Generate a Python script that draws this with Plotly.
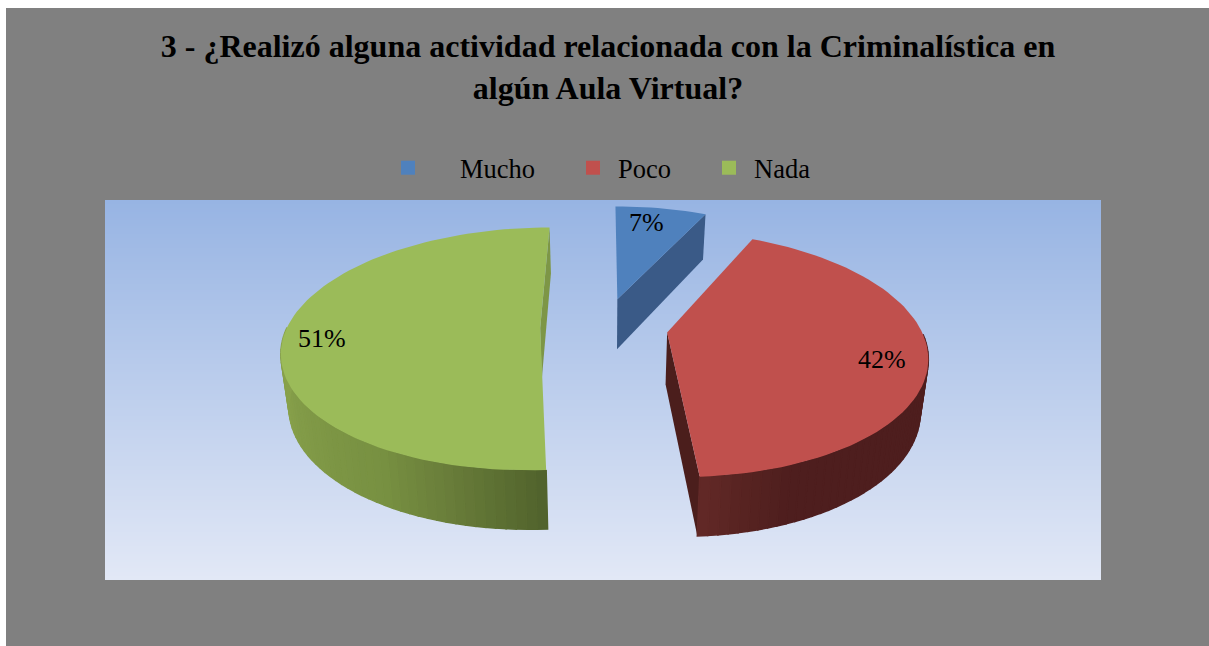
import numpy as np
import plotly.graph_objects as go

CATEGORIES = ["Mucho", "Poco", "Nada"]
VALUES = [7, 42, 51]
TITLE_LINES = ["3 - ¿Realizó alguna actividad relacionada con la Criminalística en",
               "algún Aula Virtual?"]

FACE = ["#4f81bd", "#c0504d", "#9bbb59"]
END_WALL = ["#3a5a87", "#4b1e1c", "#7d9646"]
# rim colour by angle, lighter/darker like the office bevel
RIM = [
    [(0, (58, 90, 135)), (360, (58, 90, 135))],
    [(0, (78, 30, 30)), (158, (78, 30, 30)), (168, (88, 36, 34)), (177, (100, 42, 40))],
    [(176, (80, 98, 44)), (195, (105, 125, 58)), (210, (120, 145, 66)),
     (250, (135, 160, 75)), (290, (139, 165, 78)), (360, (139, 165, 78))],
]
LABEL_SHIFT = [(-8, 0), (2, 8), (-9, 8)]

# tilted pie projection, pixels
CX, CY = 604, 327
RX, RY = 253, 117.5
PERSP = 0.172
EXPLODE = 0.252
FONT = "Liberation Serif"


def project(x, y):
    s = 1 / (1 - PERSP * y)
    return CX + RX * x * s, CY + RY * y * s


def project_low(x, y):
    # lower edge of the disc
    sx, sy = project(x, y)
    return CX + (sx - CX) * 0.975, CY + 51.4 + 1.053 * (sy - CY)


def rim_point(apex, theta, r=1.0):
    t = np.radians(theta)
    return apex[0] + r * np.sin(t), apex[1] - r * np.cos(t)


def rim_rgb(stops, theta):
    angles = [a for a, _ in stops]
    return "rgb(%d,%d,%d)" % tuple(np.interp(theta, angles, [c[i] for _, c in stops]) for i in range(3))


def poly(points, color, width=0.0):
    xs = [p[0] for p in points] + [points[0][0]]
    ys = [p[1] for p in points] + [points[0][1]]
    return go.Scatter(x=xs, y=ys, mode="lines", fill="toself", fillcolor=color,
                      line=dict(color=color, width=width), hoverinfo="skip", showlegend=False)


fig = go.Figure()

# panel gradient
edges = np.linspace(200, 580, 191)
fig.add_trace(go.Heatmap(x=[105, 1101], y=edges, z=[[i] for i in range(190)], showscale=False,
                         colorscale=[[0, "#97b4e3"], [1, "#e2e8f6"]], hoverinfo="skip"))

annotations = []
start = 0.0
for i, v in enumerate(VALUES):
    span = v * 3.6
    end = start + span
    mid = np.radians(start + span / 2)
    apex = (EXPLODE * np.sin(mid), -EXPLODE * np.cos(mid))
    thetas = np.linspace(start, end, int(span / 2) + 2)

    # radial wall on the clockwise edge
    edge = rim_point(apex, end)
    fig.add_trace(poly([project(*apex), project(*edge), project_low(*edge), project_low(*apex)], END_WALL[i]))

    # rim, only the part facing the viewer
    for a, b in zip(thetas[:-1], thetas[1:]):
        if -np.cos(np.radians((a + b) / 2)) < 0:
            continue
        pa, pb = rim_point(apex, a), rim_point(apex, b)
        fig.add_trace(poly([project(*pa), project(*pb), project_low(*pb), project_low(*pa)],
                           rim_rgb(RIM[i], (a + b) / 2), width=1.5))

    # top face
    fig.add_trace(poly([project(*apex)] + [project(*rim_point(apex, t)) for t in thetas], FACE[i]))

    lx, ly = project(*rim_point(apex, start + span / 2, 0.82))
    annotations.append(dict(x=lx, y=ly, xref="x", yref="y", text=f"{v}%", showarrow=False,
                            xshift=LABEL_SHIFT[i][0], yshift=-LABEL_SHIFT[i][1],
                            font=dict(family=FONT, size=26, color="black")))
    start = end

# legend only traces, each in its own legend so the spacing can follow the original
legend_pos = [(356, 30 + 64), (568, 40), (704, 40)]
for i, name in enumerate(CATEGORIES):
    fig.add_trace(go.Scatter(x=[None], y=[None], mode="markers", name=name,
                             marker=dict(symbol="square", size=14, color=FACE[i]),
                             legend="legend" if i == 0 else f"legend{i + 1}"))

legend_common = dict(orientation="h", yanchor="middle", y=1 - 168 / 646, xanchor="left",
                     bgcolor="rgba(0,0,0,0)", borderwidth=0,
                     font=dict(family=FONT, size=26.5, color="black"))

fig.update_layout(
    width=1209, height=646,
    margin=dict(l=0, r=0, t=0, b=0),
    paper_bgcolor="white",
    plot_bgcolor="rgba(0,0,0,0)",
    xaxis=dict(range=[0, 1209], visible=False, fixedrange=True),
    yaxis=dict(range=[646, 0], visible=False, fixedrange=True),
    title=dict(text="<br>".join(TITLE_LINES), x=608 / 1209, xanchor="center", y=1 - 57 / 646, yanchor="top",
               pad=dict(t=0), font=dict(family=FONT, size=32, color="black", weight="bold")),
    shapes=[dict(type="rect", xref="x", yref="y", x0=6, x1=1209, y0=8, y1=646,
                 fillcolor="#808080", line_width=0, layer="below")],
    annotations=annotations,
    legend=dict(x=legend_pos[0][0] / 1209, itemwidth=legend_pos[0][1], **legend_common),
    legend2=dict(x=legend_pos[1][0] / 1209, itemwidth=legend_pos[1][1], **legend_common),
    legend3=dict(x=legend_pos[2][0] / 1209, itemwidth=legend_pos[2][1], **legend_common),
)

fig.write_html("out.html", config={"displayModeBar": False},
               post_script="document.body.style.margin='0';document.body.style.overflow='hidden';")
